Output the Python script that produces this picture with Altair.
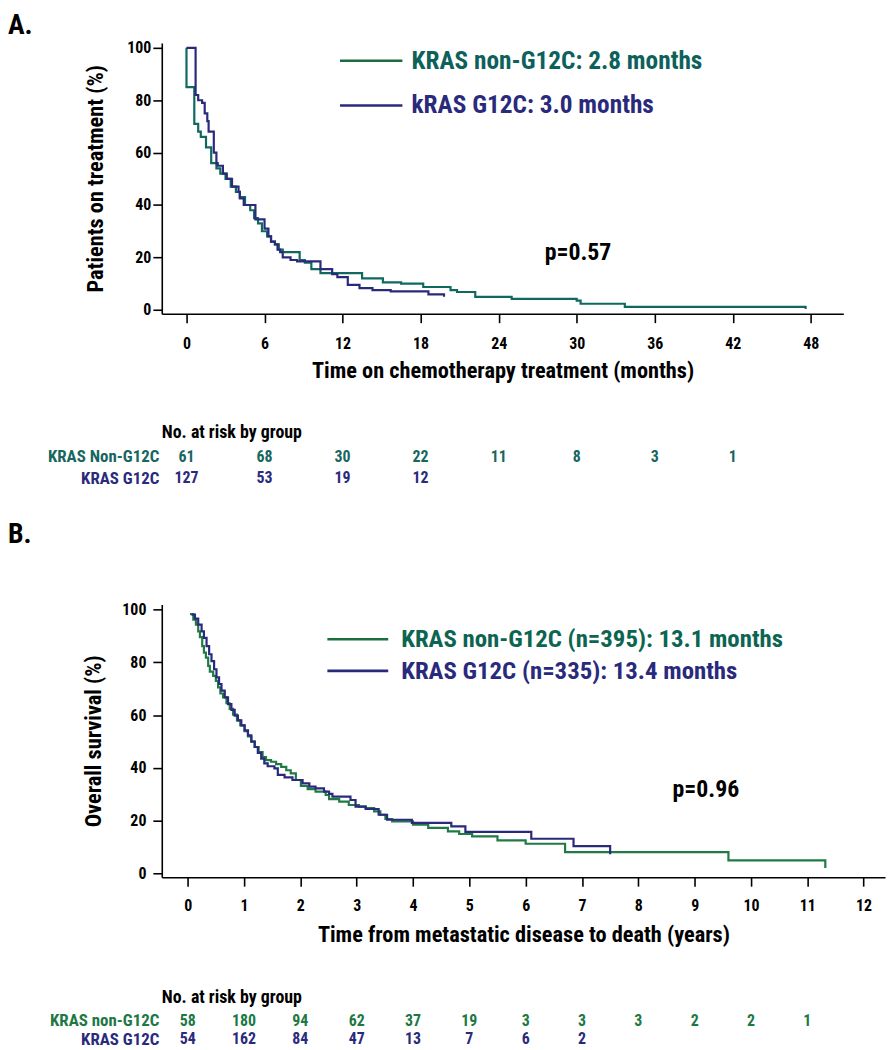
import altair as alt
import pandas as pd

# ---------------- data ----------------
# Panel A: time on chemotherapy treatment (months), % patients on treatment
A_NON_T = [0, 0, 0.6, 0.9, 1.1, 1.5, 1.9, 2.3, 2.6, 3.0, 3.4, 3.8, 4.1, 4.5, 4.9, 5.2, 5.5, 5.8,
           6.2, 6.5, 6.8, 7.1, 7.4, 8.7, 9.1, 9.6, 10.3, 13.5, 15.1, 16.5, 18.2, 20.3, 20.8,
           22.2, 25.0, 30.0, 30.3, 33.7, 47.6, 47.6]
A_NON_S = [100, 85, 71, 68, 66, 62, 56, 54, 52, 50, 47, 45, 43, 40, 38, 35, 33, 30,
           28, 26, 25, 23, 22, 19, 18, 15.5, 14, 12, 10.5, 10, 8.7, 7.5, 6.8,
           4.9, 4.2, 3.5, 2.3, 1.1, 1.1, 0.3]
A_G12C_T = [0, 0.7, 0.9, 1.2, 1.4, 1.6, 1.7, 2.1, 2.3, 2.4, 2.8, 3.1, 3.5, 4.0, 4.1, 4.4, 5.3,
            6.0, 6.3, 6.5, 6.8, 7.0, 7.2, 7.4, 8.0, 8.5, 10.3, 11.2, 11.6, 12.4, 13.3, 14.3,
            15.7, 18.6, 19.8, 19.8]
A_G12C_S = [100, 82, 80, 79, 75, 72, 68, 60, 56, 55, 52, 50, 47, 45, 42.5, 40, 34.5,
            31, 28, 26, 25, 23, 22, 20, 19, 18.5, 15.5, 13.6, 12.5, 9.5, 8.3, 7.5,
            7.0, 5.9, 5.9, 5.0]

# Panel B: time from metastatic disease to death (years), % overall survival
B_NON_T = [0.04, 0.10, 0.146, 0.187, 0.217, 0.258, 0.288, 0.323, 0.364, 0.393, 0.452, 0.50,
           0.54, 0.58, 0.628, 0.688, 0.746, 0.805, 0.875, 0.934, 1.01, 1.07, 1.13, 1.19,
           1.26, 1.33, 1.39, 1.48, 1.57, 1.66, 1.75, 1.83, 1.92, 2.01, 2.13, 2.27, 2.45,
           2.51, 2.69, 2.86, 3.04, 3.16, 3.31, 3.42, 3.51, 3.63, 4.0, 4.27, 4.62, 4.82,
           5.05, 5.5, 6.0, 6.7, 9.6, 11.32, 11.32]
B_NON_S = [98.3, 96.2, 94.3, 91.8, 89.6, 86.2, 83.7, 81.8, 78.7, 76.5, 74.9, 73.0,
           70.5, 68.2, 66.7, 64.5, 62.4, 60.2, 58.0, 56.1, 53.9, 51.9, 49.8, 47.9,
           46.0, 44.1, 42.9, 42.3, 41.4, 40.4, 39.1, 37.9, 35.4, 33.1, 31.9, 31.0, 29.7,
           28.1, 27.2, 25.9, 25.3, 24.7, 23.5, 22.2, 20.6, 19.7, 18.4, 17.2, 15.9, 14.9,
           14.0, 12.5, 11.2, 8.0, 4.9, 4.9, 2.0]
B_G12C_T = [0.07, 0.129, 0.187, 0.247, 0.288, 0.335, 0.381, 0.423, 0.469, 0.511, 0.557,
            0.60, 0.658, 0.716, 0.776, 0.834, 0.892, 0.952, 1.01, 1.07, 1.13, 1.19, 1.245,
            1.305, 1.36, 1.42, 1.54, 1.60, 1.72, 1.86, 2.04, 2.16, 2.27, 2.42, 2.51, 2.57,
            2.89, 2.98, 3.16, 3.39, 3.54, 3.98, 4.68, 4.93, 6.1, 6.85, 7.5, 7.5]
B_G12C_S = [98.1, 96.6, 94.3, 91.8, 89.3, 86.2, 83.1, 80.5, 77.4, 74.3, 71.8,
            69.3, 66.7, 64.2, 62.0, 59.8, 58.0, 56.1, 54.2, 52.3, 50.1, 47.9, 45.7,
            43.5, 41.7, 40.6, 39.8, 37.3, 36.4, 35.4, 34.1, 32.9, 32.2, 31.0, 30.1, 29.1,
            27.8, 25.3, 24.4, 22.2, 20.3, 19.1, 17.8, 15.7, 13.1, 10.3, 10.3, 7.2]

A_RISK_T = [0, 6, 12, 18, 24, 30, 36, 42]
A_RISK_NON = [61, 68, 30, 22, 11, 8, 3, 1]
A_RISK_G12C = [127, 53, 19, 12]
B_RISK_T = [0, 1, 2, 3, 4, 5, 6, 7, 8, 9, 10, 11]
B_RISK_NON = [58, 180, 94, 62, 37, 19, 3, 3, 3, 2, 2, 1]
B_RISK_G12C = [54, 162, 84, 47, 13, 7, 6, 2]

A_XTICKS = [0, 6, 12, 18, 24, 30, 36, 42, 48]
B_XTICKS = [0, 1, 2, 3, 4, 5, 6, 7, 8, 9, 10, 11, 12]
Y_TICKS = [0, 20, 40, 60, 80, 100]

A_GROUPS = ["KRAS Non-G12C", "KRAS G12C"]
B_GROUPS = ["KRAS non-G12C", "KRAS G12C"]
A_LEGEND = ["KRAS non-G12C: 2.8 months", "kRAS G12C: 3.0 months"]
B_LEGEND = ["KRAS non-G12C (n=395): 13.1 months", "KRAS G12C (n=335): 13.4 months"]

# ---------------- styling ----------------
FONT = "Liberation Sans Narrow, Arial Narrow, Roboto Condensed, DejaVu Sans Condensed, sans-serif"
TEAL_LINE = "#10695f"
TEAL_TEXT = "#0d615b"
GREEN_LEG = "#1a6d3c"
GREEN_LINE = "#1f7a44"
GREEN_TEXT = "#0c6551"
NAVY = "#2a2a7c"
RISK_A_NON = "#17665f"
RISK_B_NON = "#1d7844"

A_W, A_H = 687, 273
B_W, B_H = 729, 275
A_XDOM = [-1.9, 50.5]
B_XDOM = [-0.46, 12.38]
A_YDOM = [-1.5, 101.9]
B_YDOM = [-1.5, 102.0]
AXIS_TITLE_SIZE = 22.5


def panel(label, curves, legend, legend_colors, leg_line_colors, leg_pos, pval, pval_pos,
          width, height, xdom, ydom, xticks, xtitle, ytitle, ylabpad, ytitlepad, leg_size,
          title_offset, xlabpad, xtitlepad):
    xs = alt.Scale(domain=xdom, nice=False, zero=False)
    ys = alt.Scale(domain=ydom, nice=False, zero=False)
    xaxis = alt.Axis(values=xticks, title=xtitle, grid=False, tickSize=9, labelPadding=xlabpad,
                     titlePadding=xtitlepad, labelFontSize=16, titleFontSize=AXIS_TITLE_SIZE,
                     labelFlush=False)
    yaxis = alt.Axis(values=Y_TICKS, title=ytitle, grid=False, tickSize=9, labelPadding=ylabpad,
                     titlePadding=ytitlepad, labelFontSize=16, titleFontSize=AXIS_TITLE_SIZE)

    def X(f):
        return alt.X(f, type="quantitative", scale=xs, axis=xaxis, title=xtitle)

    def Y(f):
        return alt.Y(f, type="quantitative", scale=ys, axis=yaxis, title=ytitle)

    layers = []
    for (t, s, c) in curves:
        df = pd.DataFrame({"t": t, "s": s, "o": list(range(len(t)))})
        layers.append(alt.Chart(df).mark_line(interpolate="step-after", color=c,
                                              strokeWidth=2.2).encode(
            x=X("t"), y=Y("s"), order="o:Q"))
    (lx1, lx2, tx, ly1, ly2) = leg_pos
    for i, (txt, tc, lc) in enumerate(zip(legend, legend_colors, leg_line_colors)):
        yy = ly1 if i == 0 else ly2
        ldf = pd.DataFrame({"x": [lx1], "x2": [lx2], "y": [yy], "tx": [tx], "label": [txt]})
        layers.append(alt.Chart(ldf).mark_rule(color=lc, strokeWidth=2.6).encode(
            x=X("x"), x2="x2:Q", y=Y("y")))
        layers.append(alt.Chart(ldf).mark_text(align="left", baseline="middle", font=FONT,
                                               fontSize=leg_size, fontWeight="bold", color=tc).encode(
            x=X("tx"), y=Y("y"), text="label:N"))
    pdf = pd.DataFrame({"x": [pval_pos[0]], "y": [pval_pos[1]], "label": [pval]})
    layers.append(alt.Chart(pdf).mark_text(align="center", baseline="middle", font=FONT,
                                           fontSize=24, fontWeight="bold", color="black").encode(
        x=X("x"), y=Y("y"), text="label:N"))
    return alt.layer(*layers).properties(
        width=width, height=height,
        title=alt.TitleParams(label, anchor="start", frame="group", dx=-155,
                              offset=title_offset, fontSize=28, font=FONT, fontWeight="bold",
                              color="black"),
    )


def risk(times, non, g12c, groups, non_color, width, xdom, height):
    xs = alt.Scale(domain=xdom, nice=False, zero=False)
    ys = alt.Scale(domain=groups, paddingInner=0, paddingOuter=0)
    df1 = pd.DataFrame({"t": times[:len(non)], "n": non, "g": groups[0]})
    df2 = pd.DataFrame({"t": times[:len(g12c)], "n": g12c, "g": groups[1]})
    yaxis = alt.Axis(title=None, domain=False, ticks=False, labelPadding=3, labelFontSize=17,
                     labelFont=FONT, labelFontWeight="bold",
                     labelColor={"expr": f"datum.label == '{groups[1]}' ? '{NAVY}' : '{non_color}'"})
    l1 = alt.Chart(df1).mark_text(font=FONT, fontSize=16, fontWeight="bold", color=non_color).encode(
        x=alt.X("t:Q", scale=xs, axis=None), y=alt.Y("g:N", scale=ys, axis=yaxis, sort=groups),
        text="n:Q")
    l2 = alt.Chart(df2).mark_text(font=FONT, fontSize=16, fontWeight="bold", color=NAVY).encode(
        x=alt.X("t:Q", scale=xs, axis=None), y=alt.Y("g:N", scale=ys, axis=yaxis, sort=groups),
        text="n:Q")
    return alt.layer(l1, l2).properties(
        width=width, height=height,
        title=alt.TitleParams("No. at risk by group", anchor="start", frame="group", offset=4,
                              fontSize=18, font=FONT, fontWeight="bold", color="black"),
    )


panel_a = panel("A.",
                [(A_NON_T, A_NON_S, TEAL_LINE), (A_G12C_T, A_G12C_S, NAVY)],
                A_LEGEND, [TEAL_TEXT, NAVY], [GREEN_LEG, NAVY],
                (11.8, 16.6, 17.3, 95.1, 78.0), "p=0.57", (30.1, 21.6),
                A_W, A_H, A_XDOM, A_YDOM, A_XTICKS,
                "Time on chemotherapy treatment (months)", "Patients on treatment (%)",
                2, 19, 25.5, 0, 13, 8)
risk_a = risk(A_RISK_T, A_RISK_NON, A_RISK_G12C, A_GROUPS, RISK_A_NON, A_W, A_XDOM, 44)

panel_b = panel("B.",
                [(B_NON_T, B_NON_S, GREEN_LINE), (B_G12C_T, B_G12C_S, NAVY)],
                B_LEGEND, [GREEN_TEXT, NAVY], [GREEN_LEG, NAVY],
                (2.48, 3.56, 3.79, 88.8, 76.8), "p=0.96", (9.2, 31.6),
                B_W, B_H, B_XDOM, B_YDOM, B_XTICKS,
                "Time from metastatic disease to death (years)", "Overall survival (%)",
                7, 17, 25, 53, 12, 10)
risk_b = risk(B_RISK_T, B_RISK_NON, B_RISK_G12C, B_GROUPS, RISK_B_NON, B_W, B_XDOM, 38)

group_a = alt.vconcat(panel_a, risk_a, spacing=42)
group_b = alt.vconcat(panel_b, risk_b, spacing=43)

chart = alt.vconcat(group_a, group_b, spacing=32).properties(
    padding={"left": 0, "top": 0, "right": 2, "bottom": 0},
    background="white",
).configure_view(strokeWidth=0, stroke=None).configure_axis(
    labelFont=FONT, titleFont=FONT, labelFontWeight="bold", titleFontWeight="bold",
    labelColor="black", titleColor="black", domainColor="black", tickColor="black",
    domainWidth=1.6, tickWidth=1.6
)

chart.save("out.html", embed_options={"renderer": "svg", "actions": False})
